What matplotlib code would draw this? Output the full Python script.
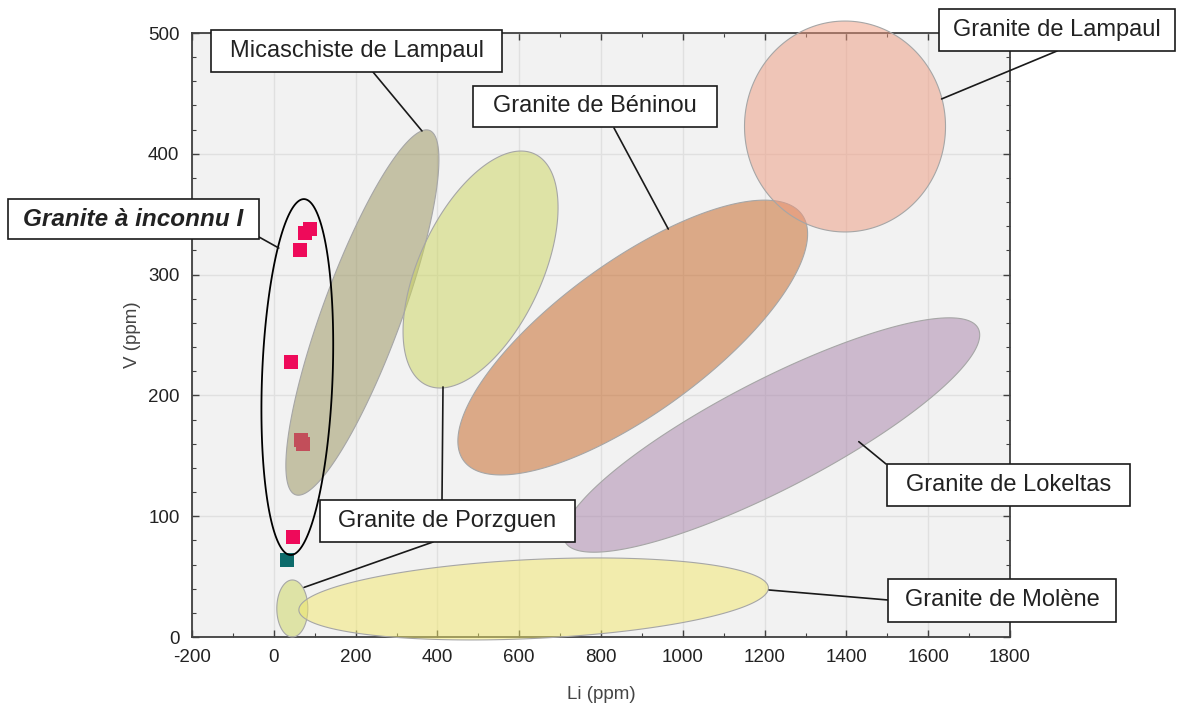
import numpy as np
import matplotlib
matplotlib.use("Agg")
import matplotlib.pyplot as plt
from matplotlib.patches import Polygon, Rectangle
from matplotlib.ticker import MultipleLocator

plt.rcParams['font.family'] = ['Liberation Sans', 'DejaVu Sans']
plt.rcParams['axes.unicode_minus'] = False

# Samples (Li ppm, V ppm)
li_pts = [88.9, 75.9, 64.4, 41.6, 66, 71, 46.5]
v_pts = [337.5, 334.2, 320.4, 227.9, 163, 160, 83.0]
li_teal = [31.8]
v_teal = [63.7]

# Fields: center, tip of the long axis, width ratio (short/long)
field_names = ["Micaschiste de Lampaul", "Granite de Porzguen", "Granite de Porzguen",
               "Granite de Béninou", "Granite de Lokeltas", "Granite de Molène",
               "Granite de Lampaul"]
field_center = [(216.6, 268.6), (45.3, 23.6), (505.5, 304.2), (877.6, 247.9),
                (1217.1, 167.2), (635.3, 31.5), (1396.6, 422.6)]
field_tip = [(380.4, 419.4), (45.3, 47.2), (637.5, 399.9), (1291.1, 349.8),
             (1722.2, 255.5), (1209.3, 40.8), (1396.6, 509.9)]
field_ratio = [0.203, 0.544, 0.481, 0.361, 0.235, 0.168, 0.953]
field_colors = ["#98925a", "#ccd65c", "#ccd65c", "#c6621e", "#a882aa", "#f2e86a", "#ee9a7e"]

# Outline around "Granite à inconnu I"
inc_center = (57.5, 215.2)
inc_tip = (74.2, 362.5)
inc_ratio = 0.198

W, H = 1177, 705
fig = plt.figure(figsize=(W / 100, H / 100), dpi=100)
ax = fig.add_axes([192 / W, 1 - 637 / H, 818 / W, 604 / H])
ax.set_facecolor("#f2f2f2")
ax.set_xlim(-200, 1800)
ax.set_ylim(0, 500)


def ellipse_pts(center, tip, ratio, n=300):
    c = ax.transData.transform(center)
    t = ax.transData.transform(tip)
    v = t - c
    a = np.hypot(*v)
    u = v / a
    w = np.array([-u[1], u[0]]) * a * ratio
    tt = np.linspace(0, 2 * np.pi, n)
    pts = c + np.outer(np.cos(tt), v) + np.outer(np.sin(tt), w)
    return ax.transData.inverted().transform(pts)


ax.scatter(li_pts, v_pts, marker="s", s=110, color="#ee0a5a", zorder=2, linewidths=0)
ax.scatter(li_teal, v_teal, marker="s", s=110, color="#0d6b6b", zorder=2, linewidths=0)

for c, t, r, col in zip(field_center, field_tip, field_ratio, field_colors):
    ax.add_patch(Polygon(ellipse_pts(c, t, r), closed=True, facecolor=col, alpha=0.5,
                         edgecolor="none", zorder=3, clip_on=False))
    ax.add_patch(Polygon(ellipse_pts(c, t, r), closed=True, fill=False,
                         edgecolor="#a6a6a6", lw=0.8, zorder=3, clip_on=False))

ax.add_patch(Polygon(ellipse_pts(inc_center, inc_tip, inc_ratio), closed=True, fill=False,
                     edgecolor="black", lw=1.3, zorder=4, clip_on=False))

ax.xaxis.set_major_locator(MultipleLocator(200))
ax.xaxis.set_minor_locator(MultipleLocator(100))
ax.yaxis.set_major_locator(MultipleLocator(100))
ax.yaxis.set_minor_locator(MultipleLocator(20))
ax.grid(True, which="major", color="#e0e0e0", lw=1.0, zorder=0)
ax.set_axisbelow(True)
ax.tick_params(which="both", direction="in", top=True, right=True, colors="#404040",
               labelcolor="#222222", labelsize=13.5)
ax.tick_params(which="major", length=5, width=1)
ax.tick_params(which="minor", length=3, width=0.8)
ax.tick_params(axis="y", pad=9)
ax.tick_params(axis="x", pad=9)
for s in ax.spines.values():
    s.set_color("#404040")
    s.set_linewidth(1.3)

ax.set_xlabel("Li (ppm)", fontsize=13.5, color="#444444", labelpad=14)
ax.set_ylabel("V (ppm)", fontsize=13.5, color="#444444", labelpad=5)

# label boxes (pixel extents: left, right, top, bottom)
boxes = [
    ("Micaschiste de Lampaul", (211, 502, 30, 72), False),
    ("Granite de Béninou", (473, 717, 86, 127), False),
    ("Granite de Lampaul", (939, 1175, 9, 51), False),
    ("Granite à inconnu I", (8, 259, 199, 239), True),
    ("Granite de Porzguen", (320, 575, 500, 542), False),
    ("Granite de Lokeltas", (887, 1130, 464, 506), False),
    ("Granite de Molène", (888, 1116, 579, 622), False),
]
for text, (l, r, t, b), bold in boxes:
    fig.patches.append(Rectangle((l / W, 1 - b / H), (r - l) / W, (b - t) / H,
                                 transform=fig.transFigure, facecolor="white",
                                 edgecolor="#1a1a1a", lw=1.2, zorder=10))
    fig.text((l + r) / 2 / W, 1 - (t + b) / 2 / H, text, ha="center", va="center",
             fontsize=17.5 if bold else 17, color="#222222", zorder=11,
             fontweight="bold" if bold else "normal",
             fontstyle="italic" if bold else "normal")

# leader lines: start on box (pixels), end on field (data)
leaders = [
    ((373, 72), (362.3, 418.9)),
    ((614, 128), (964.5, 337.7)),
    ((1057, 51), (1632.8, 445.4)),
    ((259, 237), (12.2, 322.0)),
    ((442, 500), (413.7, 207.0)),
    ((433, 542), (74.2, 41.1)),
    ((886, 464), (1430.3, 161.7)),
    ((888, 600), (1211.0, 38.9)),
]
for (px, py), xy in leaders:
    ax.annotate("", xy=xy, xycoords="data", xytext=(px, H - py),
                textcoords="figure pixels",
                arrowprops=dict(arrowstyle="-", color="#1a1a1a", lw=1.2,
                                shrinkA=0, shrinkB=0), zorder=9, annotation_clip=False)

fig.savefig("out.png", dpi=100)
